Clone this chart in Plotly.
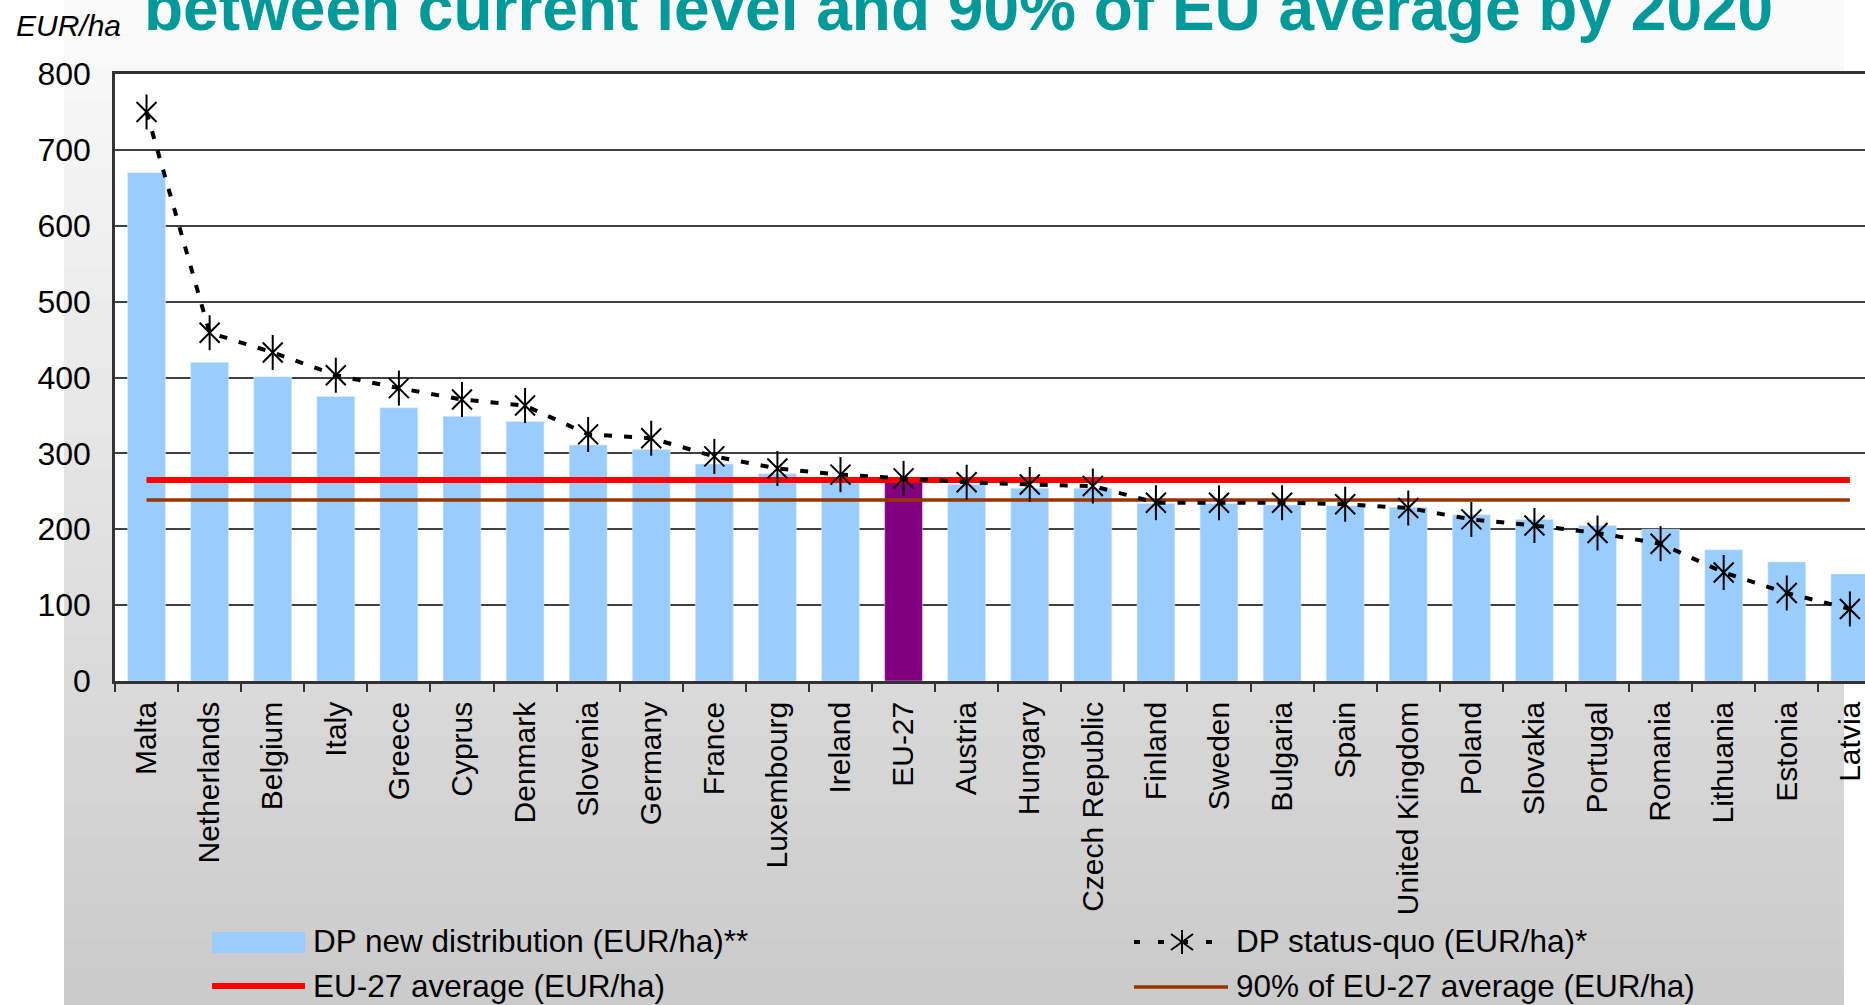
import plotly.graph_objects as go

countries = ["Malta", "Netherlands", "Belgium", "Italy", "Greece", "Cyprus", "Denmark",
             "Slovenia", "Germany", "France", "Luxembourg", "Ireland", "EU-27", "Austria",
             "Hungary", "Czech Republic", "Finland", "Sweden", "Bulgaria", "Spain",
             "United Kingdom", "Poland", "Slovakia", "Portugal", "Romania", "Lithuania",
             "Estonia", "Latvia"]
dp_new = [670, 420, 401, 375, 360, 349, 342, 311, 305, 286, 273, 267, 265, 259,
          254, 254, 234, 234, 232, 231, 229, 219, 213, 205, 200, 173, 157, 141]
dp_status_quo = [750, 459, 433, 403, 386, 371, 363, 325, 320, 296, 280, 272, 267, 262,
                 259, 257, 235, 235, 235, 233, 228, 213, 205, 195, 181, 143, 116, 95]
eu_avg = 265
eu_avg_90 = 238.5
y_ticks = [0, 100, 200, 300, 400, 500, 600, 700, 800]

W, H = 1865, 1005
L, R, T, B = 115, 0, 74, 324
PW, PH = W - L - R, H - T - B
FONT = "Liberation Sans, Arial, sans-serif"


def px(x):
    # pixel x -> paper x
    return (x - L) / PW


def py(y):
    # pixel y -> paper y
    return (H - B - y) / PH


bar_colors = ["#800080" if c == "EU-27" else "#99CCFF" for c in countries]

fig = go.Figure()
fig.add_trace(go.Bar(x=countries, y=dp_new, marker_color=bar_colors, width=0.6,
                     name="DP new distribution (EUR/ha)**"))
fig.add_trace(go.Scatter(x=countries, y=[eu_avg] * len(countries), mode="lines",
                         line=dict(color="#FF0000", width=6), name="EU-27 average (EUR/ha)"))
fig.add_trace(go.Scatter(x=countries, y=[eu_avg_90] * len(countries), mode="lines",
                         line=dict(color="#993300", width=3.5),
                         name="90% of EU-27 average (EUR/ha)"))
fig.add_trace(go.Scatter(x=countries, y=dp_status_quo, mode="lines+markers",
                         line=dict(color="black", width=4, dash="8px,12px"),
                         marker=dict(symbol="x-thin-open", size=20, color="black",
                                     line=dict(color="black", width=2)),
                         name="DP status-quo (EUR/ha)*"))
fig.add_trace(go.Scatter(x=countries, y=dp_status_quo, mode="markers",
                         marker=dict(symbol="line-ns-open", size=25, color="black",
                                     line=dict(color="black", width=2)),
                         showlegend=False))

shapes = []
# background gradient of the chart area
n = 30
for i in range(n):
    y0 = H * i / n
    y1 = H * (i + 1) / n + 1
    g = int(round(251 - (251 - 202) * (i + 0.5) / n))
    shapes.append(dict(type="rect", xref="paper", yref="paper", layer="below",
                       x0=px(64), x1=px(1844), y0=py(y0), y1=py(y1),
                       fillcolor=f"rgb({g},{g},{g})", line=dict(width=0)))
# plot area stays white
shapes.append(dict(type="rect", xref="paper", yref="paper", layer="below",
                   x0=0, x1=1, y0=0, y1=1, fillcolor="white", line=dict(width=0)))

# hand drawn legend
shapes.append(dict(type="rect", xref="paper", yref="paper", x0=px(212), x1=px(305),
                   y0=py(932), y1=py(953), fillcolor="#99CCFF", line=dict(width=0)))
shapes.append(dict(type="line", xref="paper", yref="paper", x0=px(212), x1=px(305),
                   y0=py(986), y1=py(986), line=dict(color="#FF0000", width=6)))
shapes.append(dict(type="line", xref="paper", yref="paper", x0=px(1134), x1=px(1228),
                   y0=py(987), y1=py(987), line=dict(color="#993300", width=3.5)))
shapes.append(dict(type="line", xref="paper", yref="paper", x0=px(1134), x1=px(1224),
                   y0=py(942), y1=py(942), line=dict(color="black", width=4, dash="6px,18px")))
cx, cy = 1182, 942
for (dx0, dy0, dx1, dy1) in [(0, -12, 0, 12), (-11, -8, 11, 8), (-11, 8, 11, -8)]:
    shapes.append(dict(type="line", xref="paper", yref="paper",
                       x0=px(cx + dx0), x1=px(cx + dx1), y0=py(cy + dy0), y1=py(cy + dy1),
                       line=dict(color="black", width=2)))

annotations = [
    dict(text="<b>between current level and 90% of EU average by 2020</b>", x=px(142),
         y=py(8), xref="paper", yref="paper", xanchor="left", yanchor="middle",
         showarrow=False, font=dict(family=FONT, size=64, color="#009999")),
    dict(text="<i>EUR/ha</i>", x=px(14), y=py(25), xref="paper", yref="paper",
         xanchor="left", yanchor="middle", showarrow=False,
         font=dict(family=FONT, size=30, color="black")),
]
for text, x, y in [("DP new distribution (EUR/ha)**", 311, 941),
                   ("EU-27 average (EUR/ha)", 311, 986),
                   ("DP status-quo (EUR/ha)*", 1234, 941),
                   ("90% of EU-27 average (EUR/ha)", 1234, 986)]:
    annotations.append(dict(text=text, x=px(x), y=py(y), xref="paper", yref="paper",
                            xanchor="left", yanchor="middle", showarrow=False,
                            font=dict(family=FONT, size=31.5, color="black")))

fig.update_layout(
    width=W, height=H, autosize=False,
    margin=dict(l=L, r=R, t=T, b=B, pad=0),
    paper_bgcolor="white", plot_bgcolor="white",
    showlegend=False, bargap=0.4,
    font=dict(family=FONT, size=30, color="black"),
    shapes=shapes, annotations=annotations,
    xaxis=dict(type="category", range=[-0.5, 27.24], tickson="boundaries",
               ticks="outside", ticklen=8, tickwidth=2, tickcolor="#333333",
               tickangle=-90, tickfont=dict(size=30), showline=True, linewidth=2.5,
               linecolor="#333333", mirror=True, showgrid=False, ticklabelstandoff=6),
    yaxis=dict(range=[0, 800], tickvals=y_ticks, showgrid=True, gridcolor="#404040",
               gridwidth=1.5, showline=True, linewidth=2.5, linecolor="#333333",
               ticks="", tickfont=dict(size=32), ticklabelstandoff=15, zeroline=False),
)

fig.write_html("out.html", config={"displayModeBar": False},
               post_script="document.body.style.margin='0';")
